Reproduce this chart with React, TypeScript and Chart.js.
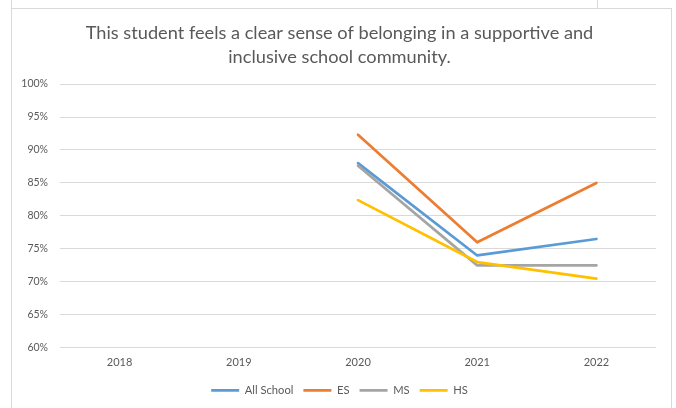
import React, { useEffect, useRef } from "react";
import { Chart, registerables } from "chart.js";

Chart.register(...registerables);

const titleLines = [
  "This student feels a clear sense of belonging in a supportive and",
  "inclusive school community.",
];
const years = ["2018", "2019", "2020", "2021", "2022"];
const allSchool = [null, null, 88.0, 74.0, 76.5];
const es = [null, null, 92.3, 76.0, 85.0];
const ms = [null, null, 87.6, 72.5, 72.5];
const hs = [null, null, 82.4, 73.0, 70.5];
const seriesNames = ["All School", "ES", "MS", "HS"];
const seriesColors = ["#5B9BD5", "#ED7D31", "#A5A5A5", "#FFC000"];

const FONT = "Lato, 'Open Sans', sans-serif";
const TEXT = "#595959";
const LINE = "#D9D9D9";

export default function App() {
  const ref = useRef<HTMLCanvasElement | null>(null);

  useEffect(() => {
    if (!ref.current) return;
    const values = [allSchool, es, ms, hs];
    const chart = new Chart(ref.current, {
      type: "line",
      data: {
        labels: years,
        datasets: values.map((v, i) => ({
          label: seriesNames[i],
          data: v,
          borderColor: seriesColors[i],
          backgroundColor: seriesColors[i],
          borderWidth: 2.75,
          pointRadius: 0,
          pointHoverRadius: 0,
          tension: 0,
          fill: false,
          borderCapStyle: "round",
          borderJoinStyle: "round",
          order: 4 - i,
        })),
      },
      options: {
        responsive: false,
        animation: false,
        devicePixelRatio: 1,
        layout: { padding: { left: 12, right: 9, top: 8, bottom: 2 } },
        plugins: {
          title: {
            display: true,
            text: titleLines,
            color: TEXT,
            font: { family: FONT, size: 18.2, weight: "normal", lineHeight: 1.32 },
            padding: { top: 13, bottom: 15 },
          },
          legend: {
            position: "bottom",
            labels: {
              color: TEXT,
              font: { family: FONT, size: 11.2 },
              usePointStyle: true,
              pointStyleWidth: 28,
              pointStyle: "line",
              padding: 10,
              sort: (a: any, b: any) => a.datasetIndex - b.datasetIndex,
            },
          },
          tooltip: { enabled: false },
        },
        scales: {
          x: {
            offset: true,
            grid: { display: false, drawTicks: false },
            border: { display: false },
            ticks: { color: TEXT, font: { family: FONT, size: 11 }, padding: 8.5 },
            afterFit: (s: any) => {
              s.height = 27;
            },
          },
          y: {
            min: 60,
            max: 100,
            grid: { color: LINE, lineWidth: 1, drawTicks: false },
            border: { display: false },
            ticks: {
              stepSize: 5,
              color: TEXT,
              font: { family: FONT, size: 10.5 },
              padding: 12,
              callback: (v: any) => v + "%",
            },
            afterFit: (s: any) => {
              s.width = 48;
            },
          },
          y2: {
            position: "right",
            display: true,
            grid: { display: false, drawTicks: false },
            border: { display: false },
            ticks: { display: false },
            afterFit: (s: any) => {
              s.width = 11;
            },
          },
        },
      },
    });
    return () => chart.destroy();
  }, []);

  const line = (style: React.CSSProperties) => (
    <div style={{ position: "fixed", background: LINE, ...style }} />
  );

  return (
    <div>
      <div style={{ position: "fixed", left: 0, top: 0, width: 676, height: 408, background: "#fff" }}>
        <canvas ref={ref} width={676} height={408} style={{ width: 676, height: 408, display: "block" }} />
      </div>
      {line({ left: 11, top: 0, width: 1, height: 408 })}
      {line({ left: 11, top: 8, width: 661, height: 1 })}
      {line({ left: 671, top: 8, width: 1, height: 400 })}
      {line({ left: 597, top: 0, width: 1, height: 8 })}
    </div>
  );
}
